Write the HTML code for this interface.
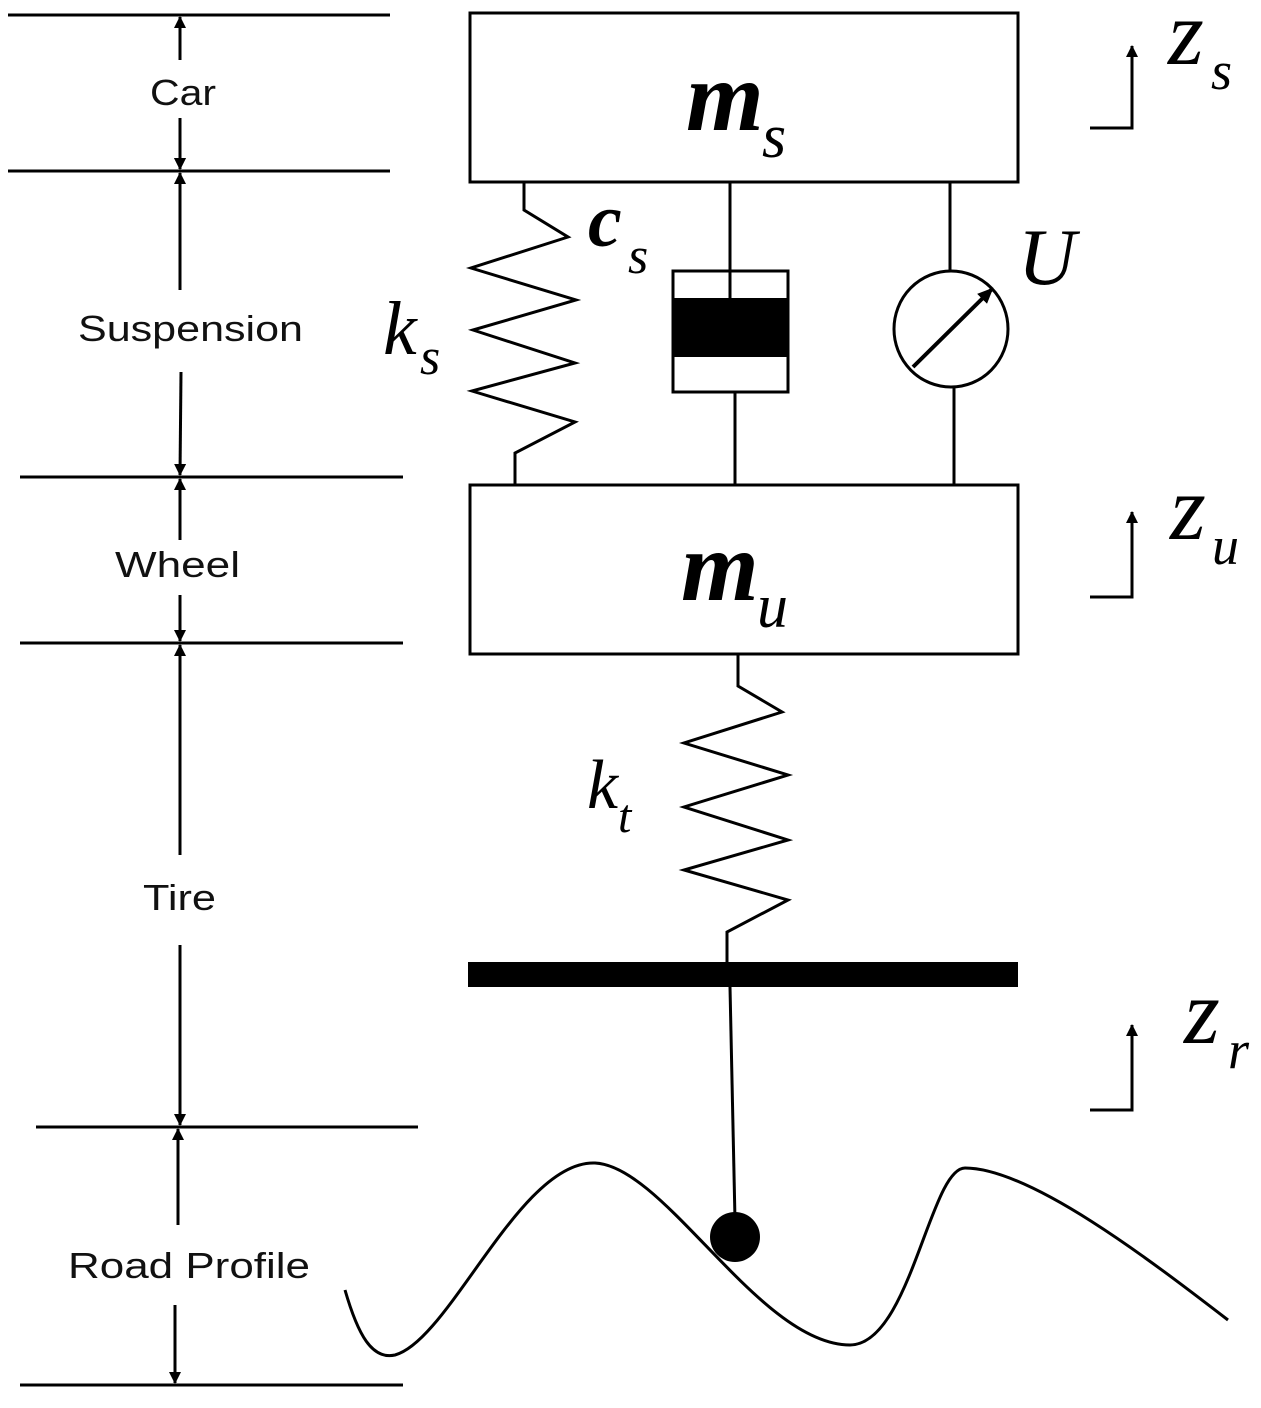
<!DOCTYPE html>
<html><head><meta charset="utf-8"><style>
html,body{margin:0;padding:0;background:#fff}
svg{display:block}
.lbl{font-family:"Liberation Sans",sans-serif;font-size:36px;fill:#111}
.m{font-family:"Liberation Serif",serif;font-style:italic;fill:#000}
</style></head><body>
<svg width="1261" height="1408" viewBox="0 0 1261 1408" xmlns="http://www.w3.org/2000/svg">
<defs>
<marker id="ah" markerWidth="12" markerHeight="12" refX="11" refY="6" orient="auto" markerUnits="userSpaceOnUse"><path d="M0,0 L12,6 L0,12 z" fill="#000"/></marker>
<marker id="ah2" markerWidth="16" markerHeight="16" refX="14" refY="8" orient="auto" markerUnits="userSpaceOnUse"><path d="M0,1 L16,8 L0,15 z" fill="#000"/></marker>
</defs>
<g stroke="#000" stroke-width="3" fill="none">
<line x1="8" y1="15" x2="390" y2="15"/>
<line x1="8" y1="171" x2="390" y2="171"/>
<line x1="20" y1="477" x2="403" y2="477"/>
<line x1="20" y1="643" x2="403" y2="643"/>
<line x1="36" y1="1127" x2="418" y2="1127"/>
<line x1="20" y1="1385" x2="403" y2="1385"/>
</g>
<g stroke="#000" stroke-width="3" fill="none">
<line x1="180" y1="60" x2="180" y2="17" marker-end="url(#ah)"/>
<line x1="180" y1="96" x2="180" y2="169" marker-end="url(#ah)" stroke="none"/>
<line x1="180" y1="118" x2="180" y2="169" marker-end="url(#ah)"/>
<line x1="180" y1="290" x2="180" y2="173" marker-end="url(#ah)"/>
<line x1="181" y1="372" x2="180" y2="475" marker-end="url(#ah)"/>
<line x1="180" y1="540" x2="180" y2="479" marker-end="url(#ah)"/>
<line x1="180" y1="595" x2="180" y2="641" marker-end="url(#ah)"/>
<line x1="180" y1="855" x2="180" y2="645" marker-end="url(#ah)"/>
<line x1="180" y1="945" x2="180" y2="1125" marker-end="url(#ah)"/>
<line x1="178" y1="1225" x2="178" y2="1129" marker-end="url(#ah)"/>
<line x1="175" y1="1305" x2="175" y2="1383" marker-end="url(#ah)"/>
</g>
<text class="lbl" x="150" y="105" textLength="66" lengthAdjust="spacingAndGlyphs">Car</text>
<text class="lbl" x="78" y="341" textLength="225" lengthAdjust="spacingAndGlyphs">Suspension</text>
<text class="lbl" x="115" y="577" textLength="125" lengthAdjust="spacingAndGlyphs">Wheel</text>
<text class="lbl" x="143" y="910" textLength="73" lengthAdjust="spacingAndGlyphs">Tire</text>
<text class="lbl" x="68" y="1278" textLength="242" lengthAdjust="spacingAndGlyphs">Road Profile</text>

<g stroke="#000" stroke-width="3" fill="none">
<rect x="470" y="13" width="548" height="169"/>
<rect x="470" y="485" width="548" height="169"/>
<polyline points="524,182 524,210 568,237 471,268 576,300 473,330 575,363 472,391 575,422 515,453 515,485"/>
<line x1="730" y1="182" x2="730" y2="298"/>
<rect x="673" y="271" width="115" height="121"/>
<line x1="735" y1="392" x2="735" y2="485"/>
<line x1="950" y1="182" x2="950" y2="271"/>
<ellipse cx="951" cy="329" rx="57" ry="58"/>
<line x1="954" y1="387" x2="954" y2="485"/>
<polyline points="738,654 738,686 782,712 684,743 788,775 684,807 788,840 684,870 788,900 727,932 727,962"/>
<line x1="730" y1="987" x2="735" y2="1220"/>
<path d="M345,1290 C358,1335 372,1360 395,1355 C450,1340 520,1160 595,1163 C665,1166 760,1345 850,1345 C910,1345 930,1168 965,1168 C1030,1168 1150,1260 1228,1320"/>
</g>
<rect x="673" y="298" width="115" height="59" fill="#000"/>
<line x1="913" y1="367" x2="992" y2="289" stroke="#000" stroke-width="4" marker-end="url(#ah2)"/>
<rect x="468" y="962" width="550" height="25" fill="#000"/>
<circle cx="735" cy="1237" r="25" fill="#000"/>

<g stroke="#000" stroke-width="3" fill="none">
<polyline points="1090,128 1132,128 1132,46" marker-end="url(#ah)"/>
<polyline points="1090,597 1132,597 1132,512" marker-end="url(#ah)"/>
<polyline points="1090,1110 1132,1110 1132,1025" marker-end="url(#ah)"/>
</g>

<text class="m" x="686" y="130" font-size="100" font-weight="bold">m</text>
<text class="m" x="762" y="157" font-size="62">s</text>
<text class="m" x="681" y="600" font-size="100" font-weight="bold">m</text>
<text class="m" x="757" y="627" font-size="62">u</text>
<text class="m" x="588" y="246" font-size="76" font-weight="bold">c</text>
<text class="m" x="628" y="273" font-size="52">s</text>
<text class="m" x="383" y="354" font-size="76">k</text>
<text class="m" x="420" y="374" font-size="52">s</text>
<text class="m" x="1018" y="284" font-size="80">U</text>
<text class="m" x="587" y="808" font-size="70">k</text>
<text class="m" x="618" y="832" font-size="48">t</text>
<text class="m" x="1168" y="64" font-size="92">z</text>
<text class="m" x="1211" y="89" font-size="54">s</text>
<text class="m" x="1170" y="539" font-size="92">z</text>
<text class="m" x="1212" y="564" font-size="54">u</text>
<text class="m" x="1184" y="1043" font-size="92">z</text>
<text class="m" x="1228" y="1068" font-size="54">r</text>
</svg>
</body></html>
